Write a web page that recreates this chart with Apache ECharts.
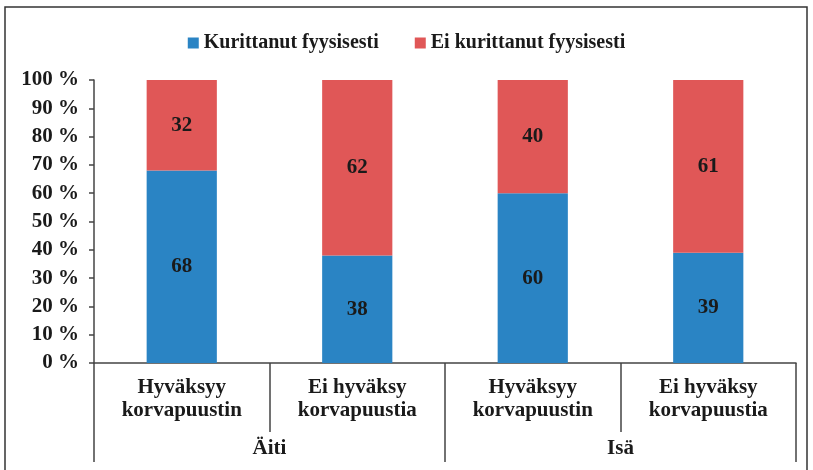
<!DOCTYPE html>
<html>
<head>
<meta charset="utf-8">
<script src="https://cdn.jsdelivr.net/npm/echarts@6/dist/echarts.min.js"></script>
<style>
  html, body { margin: 0; padding: 0; background: #fff; }
  #chart { width: 813px; height: 470px; }
</style>
</head>
<body>
<div id="chart"></div>
<script>
const categories = ['Hyväksyy\nkorvapuustin', 'Ei hyväksy\nkorvapuustia', 'Hyväksyy\nkorvapuustin', 'Ei hyväksy\nkorvapuustia'];
const groups = ['Äiti', 'Isä'];
const kurittanut = [68, 38, 60, 39];
const eiKurittanut = [32, 62, 40, 61];
const yTicks = [0, 10, 20, 30, 40, 50, 60, 70, 80, 90, 100];

const font = 'Liberation Serif';
const axisColor = '#444';

const chart = echarts.init(document.getElementById('chart'));

const labelStyle = {
    show: true,
    position: 'inside',
    color: '#1a1a1a',
    fontFamily: font,
    fontWeight: 'bold',
    fontSize: 21,
};

chart.setOption({
    animation: false,
    graphic: [{
        type: 'rect',
        shape: { x: 5, y: 7, width: 802, height: 480 },
        style: { fill: 'none', stroke: '#333', lineWidth: 1.5 },
        silent: true,
    }],
    legend: {
        top: 28,
        left: 'center',
        itemWidth: 11,
        itemHeight: 11,
        itemGap: 36,
        icon: 'rect',
        textStyle: { fontFamily: font, fontWeight: 'bold', fontSize: 20, color: '#1a1a1a' },
        data: ['Kurittanut fyysisesti', 'Ei kurittanut fyysisesti'],
    },
    grid: { left: 94, right: 17, top: 80, bottom: 107, containLabel: false },
    xAxis: [{
        type: 'category',
        data: categories,
        axisLine: { lineStyle: { color: axisColor, width: 1.5 } },
        axisTick: { show: true, interval: 0, length: 69, lineStyle: { color: axisColor, width: 1.5 } },
        axisLabel: {
            interval: 0,
            margin: 13,
            color: '#1a1a1a',
            fontFamily: font,
            fontWeight: 'bold',
            fontSize: 21,
            lineHeight: 23,
        },
    }, {
        type: 'category',
        data: groups,
        position: 'bottom',
        axisLine: { show: false },
        axisTick: { show: true, interval: 0, length: 99, lineStyle: { color: axisColor, width: 1.5 } },
        axisLabel: {
            interval: 0,
            margin: 75,
            color: '#1a1a1a',
            fontFamily: font,
            fontWeight: 'bold',
            fontSize: 21,
        },
    }],
    yAxis: {
        type: 'value',
        min: yTicks[0],
        max: yTicks[yTicks.length - 1],
        interval: 10,
        splitLine: { show: false },
        axisLine: { show: true, lineStyle: { color: axisColor, width: 1.5 } },
        axisTick: { show: true, length: 5, lineStyle: { color: axisColor, width: 1.5 } },
        axisLabel: {
            margin: 15,
            formatter: (v) => v + ' %',
            color: '#1a1a1a',
            fontFamily: font,
            fontWeight: 'bold',
            fontSize: 21,
        },
    },
    series: [{
        name: 'Kurittanut fyysisesti',
        type: 'bar',
        stack: 'total',
        barWidth: '40%',
        data: kurittanut,
        itemStyle: { color: '#2A84C4' },
        label: labelStyle,
    }, {
        name: 'Ei kurittanut fyysisesti',
        type: 'bar',
        stack: 'total',
        barWidth: '40%',
        data: eiKurittanut,
        itemStyle: { color: '#E05757' },
        label: labelStyle,
    }],
});
</script>
</body>
</html>
